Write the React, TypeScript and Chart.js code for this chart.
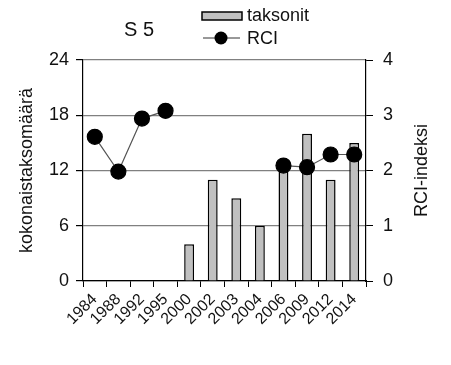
import React, { useEffect, useRef } from "react";
import { Chart, registerables } from "chart.js";

Chart.register(...registerables);

const categories = ["1984", "1988", "1992", "1995", "2000", "2002", "2003", "2004", "2006", "2009", "2012", "2014"];
const taksonit = [null, null, null, null, 4, 11, 9, 6, 13, 16, 11, 15];
const rci = [2.61, 1.98, 2.94, 3.08, null, null, null, null, 2.09, 2.06, 2.29, 2.29];
const leftTicks = [0, 6, 12, 18, 24];
const rightTicks = [0, 1, 2, 3, 4];

const FONT = "'Liberation Sans', Arial, sans-serif";

const overlayPlugin = {
  id: "overlay",
  afterDraw(chart: any) {
    const ctx = chart.ctx;
    ctx.save();
    ctx.fillStyle = "#111";
    ctx.textBaseline = "middle";
    ctx.font = `20px ${FONT}`;
    ctx.textAlign = "center";
    ctx.fillText("S 5", 139, 30);
    // bar legend
    ctx.fillStyle = "#c0c0c0";
    ctx.fillRect(202, 12, 40, 8);
    ctx.strokeStyle = "#000";
    ctx.lineWidth = 1.5;
    ctx.strokeRect(202, 12, 40, 8);
    ctx.fillStyle = "#111";
    ctx.textAlign = "left";
    ctx.font = `18px ${FONT}`;
    ctx.fillText("taksonit", 247, 16);
    // line legend
    ctx.strokeStyle = "#333";
    ctx.lineWidth = 1;
    ctx.beginPath();
    ctx.moveTo(203, 38);
    ctx.lineTo(240, 38);
    ctx.stroke();
    ctx.fillStyle = "#000";
    ctx.beginPath();
    ctx.arc(221, 38, 6.5, 0, Math.PI * 2);
    ctx.fill();
    ctx.fillStyle = "#111";
    ctx.fillText("RCI", 247, 39);
    // right axis title
    const cy = (chart.chartArea.top + chart.chartArea.bottom) / 2;
    ctx.translate(422, cy);
    ctx.rotate(-Math.PI / 2);
    ctx.textAlign = "center";
    ctx.font = `18px ${FONT}`;
    ctx.fillText("RCI-indeksi", 0, 0);
    ctx.restore();
  },
};

export default function App() {
  const ref = useRef<HTMLCanvasElement>(null);
  useEffect(() => {
    document.body.style.margin = "0";
    const chart = new Chart(ref.current as HTMLCanvasElement, {
      data: {
        labels: categories,
        datasets: [
          {
            type: "line",
            label: "RCI",
            data: rci,
            yAxisID: "y1",
            borderColor: "#555",
            borderWidth: 1.2,
            pointRadius: 7.5,
            pointBackgroundColor: "#000",
            pointBorderColor: "#000",
            spanGaps: false,
            order: 0,
          },
          {
            type: "bar",
            label: "taksonit",
            data: taksonit,
            yAxisID: "y",
            backgroundColor: "#c0c0c0",
            borderColor: "#000",
            borderWidth: 1.5,
            barPercentage: 0.42,
            categoryPercentage: 1,
            order: 1,
          },
        ],
      } as any,
      options: {
        animation: false,
        responsive: false,
        layout: { padding: { top: 60, left: 0, right: 0, bottom: 0 } },
        plugins: { legend: { display: false }, tooltip: { enabled: false } },
        scales: {
          x: {
            offset: true,
            grid: { offset: true, drawOnChartArea: false, color: "#000", tickLength: 6 },
            border: { color: "#000", width: 1.2 },
            ticks: {
              maxRotation: 45,
              minRotation: 45,
              autoSkip: false,
              color: "#111",
              font: { family: FONT, size: 16 },
              padding: 3,
            },
            afterFit(scale: any) {
              scale.height = 84;
            },
          },
          y: {
            position: "left",
            min: 0,
            max: 24,
            afterBuildTicks(scale: any) {
              scale.ticks = leftTicks.map((v) => ({ value: v }));
            },
            grid: { color: "#808080", lineWidth: 1.2, tickLength: 7, tickColor: "#000" },
            border: { color: "#000", width: 1.2 },
            ticks: { color: "#111", font: { family: FONT, size: 18 }, padding: 7 },
            title: {
              display: true,
              text: "kokonaistaksomäärä",
              color: "#111",
              font: { family: FONT, size: 18 },
              padding: { top: 16, bottom: 0 },
            },
            afterFit(scale: any) {
              scale.width = 83;
            },
          },
          y1: {
            position: "right",
            min: 0,
            max: 4,
            afterBuildTicks(scale: any) {
              scale.ticks = rightTicks.map((v) => ({ value: v }));
            },
            grid: { drawOnChartArea: false, color: "#000", tickLength: 7 },
            border: { color: "#000", width: 1.2 },
            ticks: { color: "#111", font: { family: FONT, size: 18 }, padding: 10 },
            afterFit(scale: any) {
              scale.width = 85;
            },
          },
        },
      } as any,
      plugins: [overlayPlugin],
    });
    return () => chart.destroy();
  }, []);
  return (
    <div style={{ width: 451, height: 365, background: "#fff" }}>
      <canvas ref={ref} width={451} height={365} />
    </div>
  );
}
